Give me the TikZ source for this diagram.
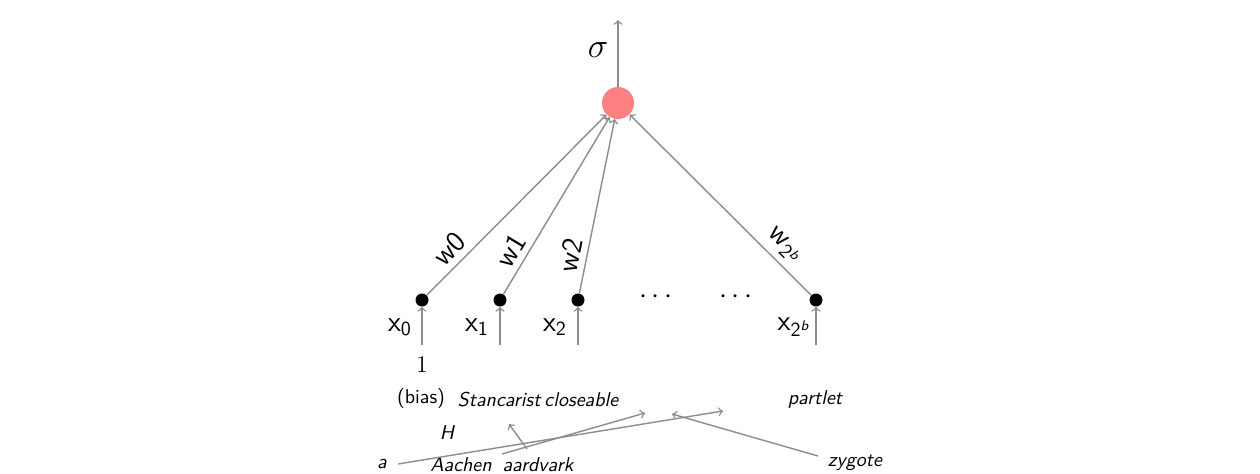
\documentclass[tikz,border=0pt]{standalone}
\usepackage{fontspec}
\newcommand{\supb}{\mbox{\scriptsize\sffamily\itshape b}}
\begin{document}
\begin{tikzpicture}[x=0.5pt,y=-0.5pt,
  conn/.style={draw=gray!90,line width=0.7pt},
  arr/.style={conn,->},
  neuron/.style={circle,fill=red!50,minimum size=16pt,inner sep=0pt},
  inp/.style={circle,fill=black,minimum size=6.5pt,inner sep=0pt},
  lab/.style={font=\Large\sffamily,inner sep=1pt},
  wlab/.style={font=\Large\sffamily,inner sep=1pt},
  word/.style={font=\sffamily\itshape,inner sep=0pt}]
\useasboundingbox (0,0) rectangle (1260,473);
\node[neuron] (out) at (618,103) {};
\coordinate (top) at (618,20);
\draw[arr] (out) -- (top);
\node[font=\LARGE] (sig) at (598,50) {$\sigma$};

\node[inp] (x0) at (422,300) {};
\node[inp] (x1) at (500,300) {};
\node[inp] (x2) at (578,300) {};
\node[inp] (xb) at (816,300) {};
\node[font=\Large] (d1) at (656,297) {$\cdots$};
\node[font=\Large] (d2) at (736,297) {$\cdots$};

\draw[arr] (x0) -- (out) node[wlab,pos=0.19,sloped,above=2pt] {w0};
\draw[arr] (x1) -- (out) node[wlab,pos=0.2,sloped,above=2pt] {w1};
\draw[arr] (x2) -- (out) node[wlab,pos=0.2,sloped,above=2pt] {w2};
\draw[arr] (xb) -- (out) node[wlab,pos=0.21,sloped,above=2pt] {$\mathsf{w}_{\mathsf{2}^{\supb}}$};

\coordinate (i0) at (422,345);
\coordinate (i1) at (500,345);
\coordinate (i2) at (578,345);
\coordinate (ib) at (816,345);
\draw[arr] (i0) -- (x0);
\draw[arr] (i1) -- (x1);
\draw[arr] (i2) -- (x2);
\draw[arr] (ib) -- (xb);
\node[lab] (lx0) at (400,327) {$\mathsf{x}_{\mathsf{0}}$};
\node[lab] (lx1) at (477,327) {$\mathsf{x}_{\mathsf{1}}$};
\node[lab] (lx2) at (555,327) {$\mathsf{x}_{\mathsf{2}}$};
\node[lab] (lxb) at (794,327) {$\mathsf{x}_{\mathsf{2}^{\supb}}$};

\node[font=\large] (one) at (422,365) {1};
\node[font=\sffamily] (bias) at (421,398) {(bias)};
\node[word] (w1) at (538,400) {Stancarist\hspace{0.2em}closeable};
\node[word] (w2) at (815,399) {partlet};
\node[word] (w3) at (447,433) {H};
\node[word] (w4) at (382,464) {a};
\node[word] (w5) at (461,465) {Aachen};
\node[word] (w6) at (538,465) {aardvark};
\node[word] (w7) at (855,463) {zygote};

\coordinate (a1) at (398,464); \coordinate (b1) at (723,411);
\coordinate (a2) at (502,454); \coordinate (b2) at (645,413);
\coordinate (a3) at (527,449); \coordinate (b3) at (509,424);
\coordinate (a4) at (818,456); \coordinate (b4) at (672,414);
\draw[arr] (a1) -- (b1);
\draw[arr] (a2) -- (b2);
\draw[arr] (a3) -- (b3);
\draw[arr] (a4) -- (b4);
\end{tikzpicture}
\end{document}
